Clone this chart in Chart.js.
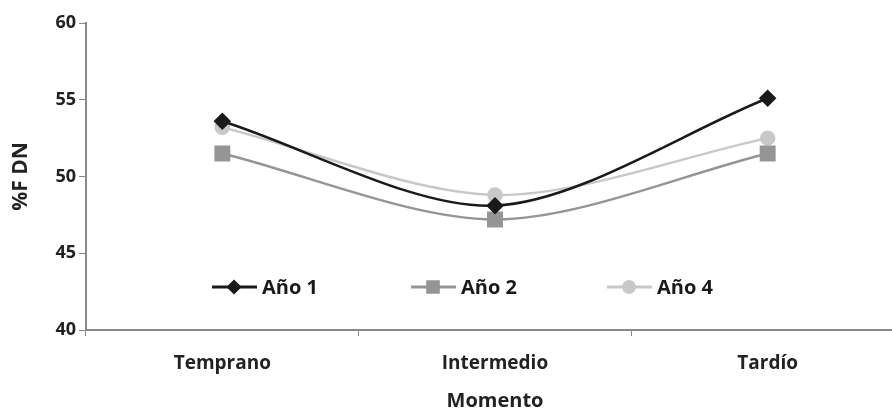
<!DOCTYPE html>
<html>
<head>
<meta charset="utf-8">
<script src="https://cdn.jsdelivr.net/npm/chart.js@4/dist/chart.umd.min.js"></script>
<style>
  html, body { margin: 0; padding: 0; background: #fff; overflow: hidden; }
  #wrap { width: 892px; height: 410px; position: relative; overflow: hidden; }
  #fdnChart { position: absolute; left: 0; top: 0; }
</style>
</head>
<body>
<!-- the original picture is cropped on the right: the canvas runs past the edge -->
<div id="wrap"><canvas id="fdnChart" width="916" height="410"></canvas></div>
<script>
const momentos = ['Temprano', 'Intermedio', 'Tardío'];
const ano1 = [53.6, 48.1, 55.1];
const ano2 = [51.5, 47.2, 51.5];
const ano4 = [53.2, 48.8, 52.5];
const yTicks = [40, 45, 50, 55, 60];

const FONT = "'Open Sans', 'DejaVu Sans', sans-serif";

// legend drawn inside the plot, like the original
const inlineLegend = {
  id: 'inlineLegend',
  afterDraw(chart, args, opts) {
    const ctx = chart.ctx;
    const y = opts.y;
    ctx.save();
    chart.data.datasets.forEach((ds, i) => {
      const x = opts.xs[i];
      ctx.strokeStyle = ds.borderColor;
      ctx.lineWidth = 3;
      ctx.beginPath();
      ctx.moveTo(x, y);
      ctx.lineTo(x + 45, y);
      ctx.stroke();
      ctx.fillStyle = ds.pointBackgroundColor;
      ctx.strokeStyle = ds.pointBackgroundColor;
      Chart.helpers.drawPoint(ctx, {
        pointStyle: ds.pointStyle,
        radius: opts.radii[i],
        borderWidth: 1
      }, x + 22, y);
      ctx.fillStyle = '#1a1a1a';
      ctx.font = 'bold 20px ' + FONT;
      ctx.textBaseline = 'middle';
      ctx.textAlign = 'left';
      ctx.fillText(ds.label, x + 50, y + 1);
    });
    ctx.restore();
  }
};

const ctx = document.getElementById('fdnChart').getContext('2d');
new Chart(ctx, {
  type: 'line',
  data: {
    labels: momentos,
    datasets: [
      {
        label: 'Año 1',
        data: ano1,
        borderColor: '#1a1a1a',
        pointBackgroundColor: '#1a1a1a',
        pointBorderColor: '#1a1a1a',
        pointStyle: 'rectRot',
        pointRadius: 7,
        borderWidth: 2.5,
        tension: 0.3
      },
      {
        label: 'Año 2',
        data: ano2,
        borderColor: '#959595',
        pointBackgroundColor: '#959595',
        pointBorderColor: '#959595',
        pointStyle: 'rect',
        pointRadius: 9.5,
        borderWidth: 2.5,
        tension: 0.3
      },
      {
        label: 'Año 4',
        data: ano4,
        borderColor: '#c8c8c8',
        pointBackgroundColor: '#c8c8c8',
        pointBorderColor: '#c8c8c8',
        pointStyle: 'circle',
        pointRadius: 6.5,
        borderWidth: 2.5,
        tension: 0.3
      }
    ]
  },
  options: {
    responsive: false,
    animation: false,
    layout: { padding: { top: 23, right: 0, left: 0, bottom: 0 } },
    plugins: {
      legend: { display: false },
      tooltip: { enabled: false },
      inlineLegend: { xs: [212, 411, 607], y: 287, radii: [5.5, 7.5, 5.5] }
    },
    scales: {
      x: {
        offset: true,
        grid: {
          display: true,
          offset: true,
          drawOnChartArea: false,
          tickLength: 6,
          color: '#888',
          lineWidth: 1
        },
        border: { color: '#888', width: 2 },
        ticks: {
          color: '#222',
          font: { family: FONT, size: 19, weight: 'bold' },
          padding: 16
        },
        title: {
          display: true,
          text: 'Momento',
          color: '#222',
          font: { family: FONT, size: 20, weight: 'bold' },
          padding: { top: 4, bottom: -3 }
        },
        afterFit(scale) {
          scale.height = 80;
          scale.paddingLeft = 0;
          scale.paddingRight = 0;
        }
      },
      y: {
        min: 40,
        max: 60,
        afterBuildTicks(scale) { scale.ticks = yTicks.map(v => ({ value: v })); },
        grid: {
          display: true,
          drawOnChartArea: false,
          tickLength: 7,
          color: '#888',
          lineWidth: 1
        },
        border: { color: '#888', width: 2 },
        ticks: {
          color: '#222',
          font: { family: FONT, size: 18, weight: 'bold' },
          padding: 3
        },
        title: {
          display: true,
          text: '%F DN',
          color: '#222',
          font: { family: FONT, size: 21, weight: 'bold' },
          padding: { top: 8, bottom: 0 }
        },
        afterFit(scale) { scale.width = 86; }
      }
    }
  },
  plugins: [inlineLegend]
});
</script>
</body>
</html>
